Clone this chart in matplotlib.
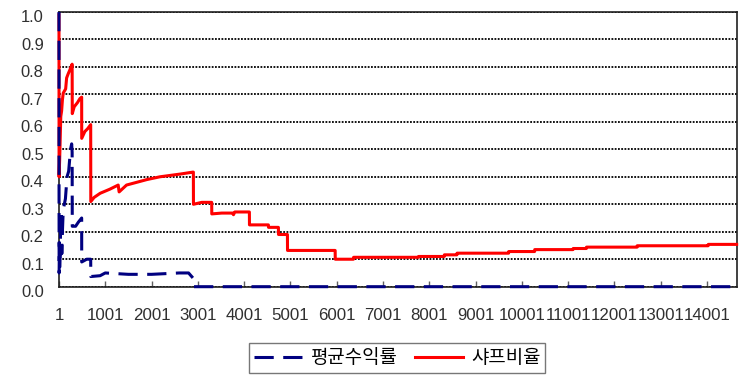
import matplotlib
matplotlib.use("Agg")
import matplotlib.pyplot as plt
from matplotlib.transforms import ScaledTranslation

# 샤프비율 (red) - vertices (index, value)
sharpe_x = [1, 3, 15, 40, 58, 75, 93, 145, 166, 200, 238, 285,
            288, 330, 400, 454, 491, 492, 560, 620, 686, 688,
            760, 890, 1100, 1280, 1300, 1460, 1680, 1900, 2180, 2400, 2620, 2890, 2904, 2906,
            3085, 3300, 3302, 3518, 3760, 3770, 3800, 4114, 4116, 4525, 4527, 4741, 4743,
            4936, 4938, 5967, 5969, 6363, 6365, 7768, 7770, 8324, 8326, 8598, 8600,
            9714, 9716, 10276, 10278, 11106, 11108, 11394, 11396, 12490, 12492, 14025, 14027, 14640]
sharpe_y = [0.99, 0.40, 0.46, 0.62, 0.64, 0.68, 0.705, 0.72, 0.76, 0.775, 0.79, 0.81,
            0.63, 0.655, 0.67, 0.685, 0.69, 0.54, 0.565, 0.575, 0.59, 0.31,
            0.325, 0.34, 0.355, 0.37, 0.345, 0.37, 0.38, 0.39, 0.40, 0.405, 0.41, 0.417, 0.417, 0.30,
            0.307, 0.307, 0.265, 0.268, 0.268, 0.262, 0.272, 0.272, 0.225, 0.225, 0.216, 0.216, 0.19,
            0.19, 0.132, 0.132, 0.10, 0.10, 0.107, 0.107, 0.110, 0.110, 0.116, 0.116, 0.122,
            0.122, 0.128, 0.128, 0.135, 0.135, 0.139, 0.139, 0.144, 0.144, 0.149, 0.149, 0.154, 0.154]

# 평균수익률 (navy, dashed)
ret_x = [1, 2, 4, 10, 20, 35, 50, 62, 75, 93, 140, 175, 210, 250, 275, 285,
         288, 360, 420, 491, 492, 600, 686, 688, 890, 1000, 1500, 2000, 2600, 2800,
         2904, 2908, 14640]
ret_y = [1.0, 0.40, 0.05, 0.16, 0.07, 0.20, 0.27, 0.12, 0.20, 0.28, 0.32, 0.40, 0.42, 0.50, 0.52, 0.49,
         0.22, 0.22, 0.235, 0.25, 0.09, 0.10, 0.10, 0.037, 0.04, 0.05, 0.045, 0.045, 0.05, 0.05,
         0.03, 0.0, 0.0]

n_points = 14640
xtick_pos = [1, 1001, 2001, 3001, 4001, 5001, 6001, 7001, 8001, 9001, 10001, 11001, 12001, 13001, 14001]
xtick_labels = [str(v) for v in xtick_pos]
ytick_pos = [0.0, 0.1, 0.2, 0.3, 0.4, 0.5, 0.6, 0.7, 0.8, 0.9, 1.0]

fig = plt.figure(figsize=(7.54, 3.82), dpi=100)
ax = fig.add_axes([0.0782, 0.2495, 0.977 - 0.0782, 0.9686 - 0.2495])

l1, = ax.plot(ret_x, ret_y, color='#000080', lw=2.2, dashes=(6.3, 3.1),
              clip_on=False, zorder=4, label='평균수익률')
l2, = ax.plot(sharpe_x, sharpe_y, color='#ff0000', lw=2.2,
              clip_on=False, zorder=3, label='샤프비율')

ax.set_xlim(0.5, n_points + 0.5)
ax.set_ylim(0, 1.0)
ax.set_yticks(ytick_pos)
ax.set_yticklabels([f'{v:.1f}' for v in ytick_pos])
ax.set_xticks(xtick_pos)
ax.set_xticklabels(xtick_labels)

ax.yaxis.grid(True, color='black', lw=1.3, linestyle=(0, (1, 0.8)))
ax.set_axisbelow(True)

for s in ax.spines.values():
    s.set_color('#202020')
    s.set_linewidth(1.2)

ax.tick_params(axis='y', length=0, pad=11, labelsize=11.9, labelcolor='#303030')
ax.tick_params(axis='x', direction='in', length=4, width=1, color='#606060',
               pad=15, labelsize=12.2, labelcolor='#303030')
for lab in ax.get_xticklabels() + ax.get_yticklabels():
    lab.set_fontfamily('Liberation Sans')
for lab in ax.get_yticklabels():
    lab.set_transform(lab.get_transform() + ScaledTranslation(0, -3.2 / 72, fig.dpi_scale_trans))

leg = fig.legend(handles=[l1, l2], loc='center', bbox_to_anchor=(0.527, 0.0633),
                 ncol=2, frameon=True, fancybox=False, shadow=False,
                 prop={'family': ['Noto Sans CJK KR', 'DejaVu Sans'], 'size': 13.6},
                 handlelength=2.55, handletextpad=0.45, columnspacing=0.9,
                 borderpad=0.25, borderaxespad=0)
leg.get_frame().set_edgecolor('#555555')
leg.get_frame().set_linewidth(1.0)

fig.savefig('out.png', dpi=100)
